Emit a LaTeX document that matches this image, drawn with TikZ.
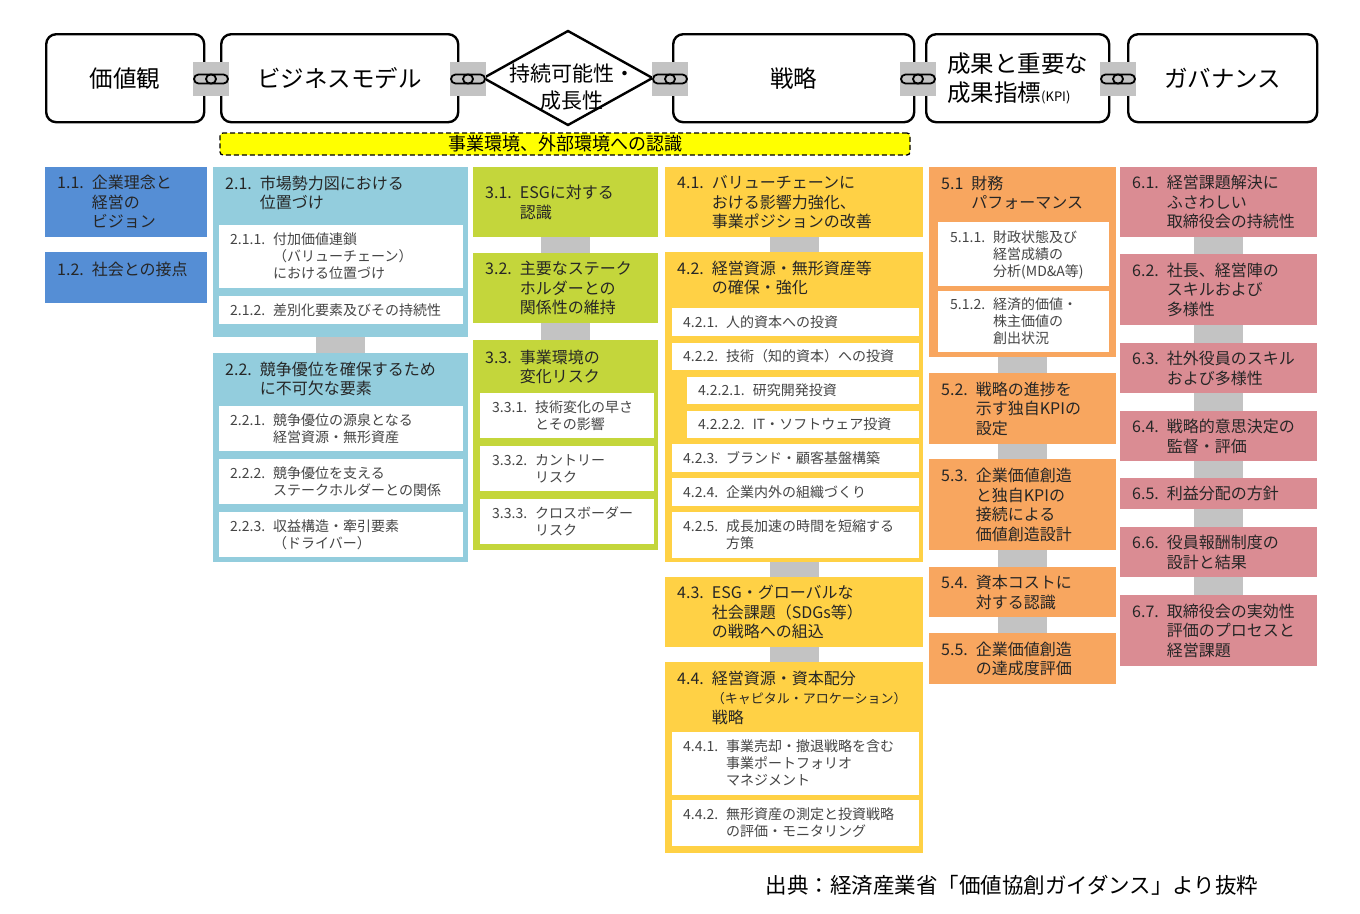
\documentclass[tikz,border=0pt]{standalone}
\usepackage{fontspec}
\setmainfont{Noto Sans CJK JP}
\usetikzlibrary{positioning,shapes.geometric}

\definecolor{cvalue}{HTML}{558ED5}
\definecolor{cmodel}{HTML}{93CDDD}
\definecolor{csust}{HTML}{C4D63B}
\definecolor{cstrat}{HTML}{FFD145}
\definecolor{ckpi}{HTML}{F8A65F}
\definecolor{cgov}{HTML}{DA8C93}
\definecolor{linkgray}{HTML}{C3C3C3}
\definecolor{recogyel}{HTML}{FFFF00}
\definecolor{ink}{HTML}{262626}
\definecolor{subink}{HTML}{454545}

% number + hanging lines
\newcommand\lbl[2]{\begin{tabular}[t]{@{}l@{\hspace{8pt}}l@{}}#1&\begin{tabular}[t]{@{}l@{}}#2\end{tabular}\end{tabular}}

\begin{document}
\begin{tikzpicture}[x=1pt,y=-1pt,
  topbox/.style={draw=black, line width=2.4pt, rounded corners=10pt, fill=white, anchor=north west,
    minimum height=88pt, inner sep=0pt, text=black, font=\fontsize{23.5}{29}\selectfont},
  chainlink/.style={fill=linkgray, minimum width=36pt, minimum height=34pt, inner sep=0pt,
    path picture={
      \draw[line width=1.8pt, rounded corners=4.5pt] ([shift={(-17pt,-4.5pt)}]path picture bounding box.center) rectangle ([shift={(5pt,4.5pt)}]path picture bounding box.center);
      \draw[line width=1.8pt, rounded corners=4.5pt] ([shift={(-5pt,-4.5pt)}]path picture bounding box.center) rectangle ([shift={(17pt,4.5pt)}]path picture bounding box.center);
    }},
  recogbar/.style={draw=black, line width=1.3pt, dash pattern=on 5pt off 3pt, rounded corners=3pt,
    fill=recogyel, minimum width=690pt, minimum height=22pt, inner sep=0pt, font=\fontsize{18}{20}\selectfont},
  pane/.style={anchor=north west, inner sep=0pt, outer sep=0pt},
  headtxt/.style={inner sep=0pt, yshift=-2.5pt, text=ink, font=\fontsize{16}{19.5}\selectfont},
  itemtxt/.style={inner sep=0pt, yshift=-2pt, text=subink, font=\fontsize{14}{17}\selectfont},
  linkbar/.style={draw=linkgray, line width=49pt}]

\useasboundingbox (0,0) rectangle (1360,913);

% Top row
\node[topbox, minimum width=158pt] (vbox) at (45,33) {価値観};
\node[topbox, minimum width=237pt] (bmbox) at (220,33) {ビジネスモデル};
\node[diamond, draw=black, line width=2.4pt, fill=white, minimum width=170pt, minimum height=95pt, inner sep=0pt] (susbox) at (568,78) {};
\node[align=center, inner sep=0pt, font=\fontsize{21}{27}\selectfont] (sustxt) at (572,87) {持続可能性・\\成長性};
\node[topbox, minimum width=241pt] (stbox) at (672,33) {戦略};
\node[topbox, minimum width=183pt, align=left] (kpibox) at (925,33) {成果と重要な\\成果指標{\fontsize{13}{13}\selectfont(KPI)}};
\node[topbox, minimum width=189pt] (govbox) at (1127,33) {ガバナンス};
%Chains
\node[chainlink] (ch1) at (211,79) {};
\node[chainlink] (ch2) at (468,79) {};
\node[chainlink] (ch3) at (670,79) {};
\node[chainlink] (ch4) at (918,79) {};
\node[chainlink] (ch5) at (1118,79) {};
\node[recogbar] (recog) at (565,144) {事業環境、外部環境への認識};

% 1. value
\node[pane, fill=cvalue, minimum width=162pt, minimum height=70pt] (b11) at (45,167) {};
\node[headtxt, right=12pt of b11.west] (t11) {\lbl{1.1.}{企業理念と\\経営の\\ビジョン}};
\node[pane, fill=cvalue, minimum width=162pt, minimum height=51pt] (b12) at (45,252) {};
\node[headtxt, below right=7pt and 12pt of b12.north west] (t12) {\lbl{1.2.}{社会との接点}};

% 2. business model
\node[pane, fill=cmodel, minimum width=255pt, minimum height=170pt] (b21) at (213,167) {};
\node[headtxt, below right=6pt and 12pt of b21.north west] (t21) {\lbl{2.1.}{市場勢力図における\\位置づけ}};
\node[pane, fill=white, minimum width=244pt, minimum height=63pt] (b211) at (219,225) {};
\node[itemtxt, right=11pt of b211.west] (t211) {\lbl{2.1.1.}{付加価値連鎖\\（バリューチェーン）\\における位置づけ}};
\node[pane, fill=white, minimum width=244pt, minimum height=28pt] (b212) at (219,296) {};
\node[itemtxt, right=11pt of b212.west] (t212) {\lbl{2.1.2.}{差別化要素及びその持続性}};
\node[pane, fill=cmodel, minimum width=255pt, minimum height=209pt] (b22) at (213,353) {};
\node[headtxt, below right=6pt and 12pt of b22.north west] (t22) {\lbl{2.2.}{競争優位を確保するため\\に不可欠な要素}};
\node[pane, fill=white, minimum width=244pt, minimum height=45pt] (b221) at (219,406) {};
\node[itemtxt, right=11pt of b221.west] (t221) {\lbl{2.2.1.}{競争優位の源泉となる\\経営資源・無形資産}};
\node[pane, fill=white, minimum width=244pt, minimum height=45pt] (b222) at (219,459) {};
\node[itemtxt, right=11pt of b222.west] (t222) {\lbl{2.2.2.}{競争優位を支える\\ステークホルダーとの関係}};
\node[pane, fill=white, minimum width=244pt, minimum height=45pt] (b223) at (219,512) {};
\node[itemtxt, right=11pt of b223.west] (t223) {\lbl{2.2.3.}{収益構造・牽引要素\\（ドライバー）}};

% 3. sustainability
\node[pane, fill=csust, minimum width=185pt, minimum height=70pt] (b31) at (473,167) {};
\node[headtxt, right=12pt of b31.west] (t31) {\lbl{3.1.}{ESGに対する\\認識}};
\node[pane, fill=csust, minimum width=185pt, minimum height=70pt] (b32) at (473,253) {};
\node[headtxt, right=12pt of b32.west] (t32) {\lbl{3.2.}{主要なステーク\\ホルダーとの\\関係性の維持}};
\node[pane, fill=csust, minimum width=185pt, minimum height=210pt] (b33) at (473,340) {};
\node[headtxt, below right=7pt and 12pt of b33.north west] (t33) {\lbl{3.3.}{事業環境の\\変化リスク}};
\node[pane, fill=white, minimum width=174pt, minimum height=45pt] (b331) at (480,393) {};
\node[itemtxt, right=12pt of b331.west] (t331) {\lbl{3.3.1.}{技術変化の早さ\\とその影響}};
\node[pane, fill=white, minimum width=174pt, minimum height=45pt] (b332) at (480,446) {};
\node[itemtxt, right=12pt of b332.west] (t332) {\lbl{3.3.2.}{カントリー\\リスク}};
\node[pane, fill=white, minimum width=174pt, minimum height=45pt] (b333) at (480,499) {};
\node[itemtxt, right=12pt of b333.west] (t333) {\lbl{3.3.3.}{クロスボーダー\\リスク}};

% 4. strategy
\node[pane, fill=cstrat, minimum width=258pt, minimum height=70pt] (b41) at (665,167) {};
\node[headtxt, right=12pt of b41.west] (t41) {\lbl{4.1.}{バリューチェーンに\\おける影響力強化、\\事業ポジションの改善}};
\node[pane, fill=cstrat, minimum width=258pt, minimum height=310pt] (b42) at (665,252) {};
\node[headtxt, below right=6pt and 12pt of b42.north west] (t42) {\lbl{4.2.}{経営資源・無形資産等\\の確保・強化}};
\node[pane, fill=white, minimum width=247pt, minimum height=28pt] (b421) at (672,308) {};
\node[itemtxt, right=11pt of b421.west] (t421) {\lbl{4.2.1.}{人的資本への投資}};
\node[pane, fill=white, minimum width=247pt, minimum height=27pt] (b422) at (672,343) {};
\node[itemtxt, right=11pt of b422.west] (t422) {\lbl{4.2.2.}{技術（知的資本）への投資}};
\node[pane, fill=white, minimum width=232pt, minimum height=27pt] (b4221) at (687,377) {};
\node[itemtxt, right=11pt of b4221.west] (t4221) {\lbl{4.2.2.1.}{研究開発投資}};
\node[pane, fill=white, minimum width=232pt, minimum height=27pt] (b4222) at (687,411) {};
\node[itemtxt, right=11pt of b4222.west] (t4222) {\lbl{4.2.2.2.}{IT・ソフトウェア投資}};
\node[pane, fill=white, minimum width=247pt, minimum height=28pt] (b423) at (672,444) {};
\node[itemtxt, right=11pt of b423.west] (t423) {\lbl{4.2.3.}{ブランド・顧客基盤構築}};
\node[pane, fill=white, minimum width=247pt, minimum height=28pt] (b424) at (672,478) {};
\node[itemtxt, right=11pt of b424.west] (t424) {\lbl{4.2.4.}{企業内外の組織づくり}};
\node[pane, fill=white, minimum width=247pt, minimum height=46pt] (b425) at (672,512) {};
\node[itemtxt, right=11pt of b425.west] (t425) {\lbl{4.2.5.}{成長加速の時間を短縮する\\方策}};
\node[pane, fill=cstrat, minimum width=258pt, minimum height=70pt] (b43) at (665,577) {};
\node[headtxt, right=12pt of b43.west] (t43) {\lbl{4.3.}{ESG・グローバルな\\社会課題（SDGs等）\\の戦略への組込}};
\node[pane, fill=cstrat, minimum width=258pt, minimum height=191pt] (b44) at (665,662) {};
\node[headtxt, below right=6pt and 12pt of b44.north west] (t44) {\lbl{4.4.}{経営資源・資本配分\\{\fontsize{13}{19.5}\selectfont（キャピタル・アロケーション）}\\戦略}};
\node[pane, fill=white, minimum width=247pt, minimum height=63pt] (b441) at (672,732) {};
\node[itemtxt, right=11pt of b441.west] (t441) {\lbl{4.4.1.}{事業売却・撤退戦略を含む\\事業ポートフォリオ\\マネジメント}};
\node[pane, fill=white, minimum width=247pt, minimum height=46pt] (b442) at (672,800) {};
\node[itemtxt, right=11pt of b442.west] (t442) {\lbl{4.4.2.}{無形資産の測定と投資戦略\\の評価・モニタリング}};

% 5. KPI
\node[pane, fill=ckpi, minimum width=187pt, minimum height=190pt] (b51) at (929,167) {};
\node[headtxt, below right=6pt and 12pt of b51.north west] (t51) {\lbl{5.1}{財務\\パフォーマンス}};
\node[pane, fill=white, minimum width=171pt, minimum height=64pt] (b511) at (938,222) {};
\node[itemtxt, right=12pt of b511.west] (t511) {\lbl{5.1.1.}{財政状態及び\\経営成績の\\分析(MD\&A等)}};
\node[pane, fill=white, minimum width=171pt, minimum height=61pt] (b512) at (938,291) {};
\node[itemtxt, right=12pt of b512.west] (t512) {\lbl{5.1.2.}{経済的価値・\\株主価値の\\創出状況}};
\node[pane, fill=ckpi, minimum width=187pt, minimum height=71pt] (b52) at (929,373) {};
\node[headtxt, right=12pt of b52.west] (t52) {\lbl{5.2.}{戦略の進捗を\\示す独自KPIの\\設定}};
\node[pane, fill=ckpi, minimum width=187pt, minimum height=91pt] (b53) at (929,459) {};
\node[headtxt, right=12pt of b53.west] (t53) {\lbl{5.3.}{企業価値創造\\と独自KPIの\\接続による\\価値創造設計}};
\node[pane, fill=ckpi, minimum width=187pt, minimum height=50pt] (b54) at (929,567) {};
\node[headtxt, right=12pt of b54.west] (t54) {\lbl{5.4.}{資本コストに\\対する認識}};
\node[pane, fill=ckpi, minimum width=187pt, minimum height=51pt] (b55) at (929,633) {};
\node[headtxt, right=12pt of b55.west] (t55) {\lbl{5.5.}{企業価値創造\\の達成度評価}};

% 6. governance
\node[pane, fill=cgov, minimum width=197pt, minimum height=70pt] (b61) at (1120,167) {};
\node[headtxt, right=12pt of b61.west] (t61) {\lbl{6.1.}{経営課題解決に\\ふさわしい\\取締役会の持続性}};
\node[pane, fill=cgov, minimum width=197pt, minimum height=71pt] (b62) at (1120,254) {};
\node[headtxt, right=12pt of b62.west] (t62) {\lbl{6.2.}{社長、経営陣の\\スキルおよび\\多様性}};
\node[pane, fill=cgov, minimum width=197pt, minimum height=50pt] (b63) at (1120,343) {};
\node[headtxt, right=12pt of b63.west] (t63) {\lbl{6.3.}{社外役員のスキル\\および多様性}};
\node[pane, fill=cgov, minimum width=197pt, minimum height=50pt] (b64) at (1120,411) {};
\node[headtxt, right=12pt of b64.west] (t64) {\lbl{6.4.}{戦略的意思決定の\\監督・評価}};
\node[pane, fill=cgov, minimum width=197pt, minimum height=31pt] (b65) at (1120,478) {};
\node[headtxt, right=12pt of b65.west] (t65) {\lbl{6.5.}{利益分配の方針}};
\node[pane, fill=cgov, minimum width=197pt, minimum height=50pt] (b66) at (1120,527) {};
\node[headtxt, right=12pt of b66.west] (t66) {\lbl{6.6.}{役員報酬制度の\\設計と結果}};
\node[pane, fill=cgov, minimum width=197pt, minimum height=71pt] (b67) at (1120,595) {};
\node[headtxt, right=12pt of b67.west] (t67) {\lbl{6.7.}{取締役会の実効性\\評価のプロセスと\\経営課題}};

%Links
\draw[linkbar] (b21.south) -- (b22.north);
\draw[linkbar] (b31.south) -- (b32.north);
\draw[linkbar] (b32.south) -- (b33.north);
\draw[linkbar] (b41.south) -- (b42.north);
\draw[linkbar] (b42.south) -- (b43.north);
\draw[linkbar] (b43.south) -- (b44.north);
\draw[linkbar] (b51.south) -- (b52.north);
\draw[linkbar] (b52.south) -- (b53.north);
\draw[linkbar] (b53.south) -- (b54.north);
\draw[linkbar] (b54.south) -- (b55.north);
\draw[linkbar] (b61.south) -- (b62.north);
\draw[linkbar] (b62.south) -- (b63.north);
\draw[linkbar] (b63.south) -- (b64.north);
\draw[linkbar] (b64.south) -- (b65.north);
\draw[linkbar] (b65.south) -- (b66.north);
\draw[linkbar] (b66.south) -- (b67.north);

\node[inner sep=0pt, font=\fontsize{21.5}{26}\selectfont] (src) at (1012,885) {出典：経済産業省「価値協創ガイダンス」より抜粋};

\end{tikzpicture}
\end{document}
